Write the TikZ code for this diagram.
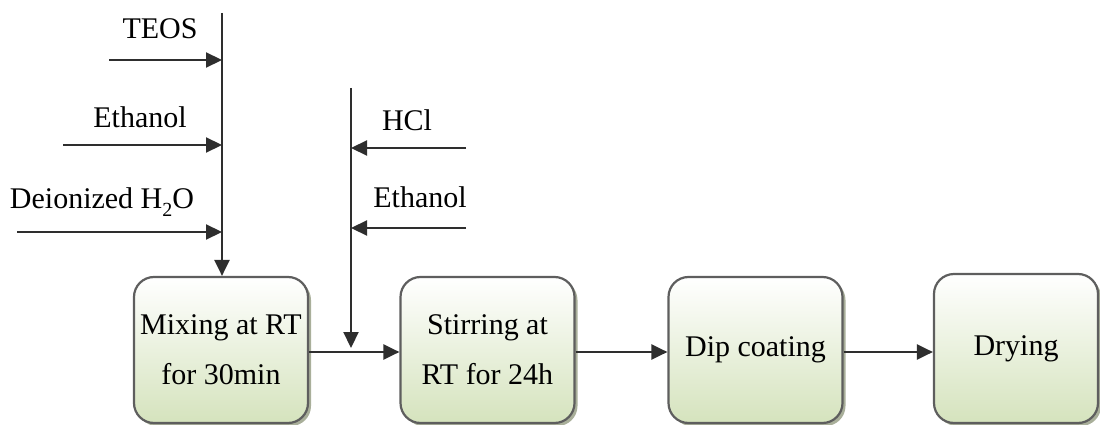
\documentclass[tikz,border=0pt]{standalone}
\usepackage{fontspec}
\setmainfont{Liberation Serif}
\newfontfamily\tnr{Liberation Serif}
\usetikzlibrary{arrows.meta,shadows}
\definecolor{boxgreen}{HTML}{D5E3BD}
\definecolor{boxshadow}{HTML}{A9AF9A}
\definecolor{linec}{HTML}{2E2E2E}
\definecolor{borderc}{HTML}{5E5E5E}
\begin{document}
\begin{tikzpicture}[x=1pt,y=-1pt,
  conn/.style={draw=linec, line width=2.2pt, -{Triangle[length=16pt,width=15pt]}},
  procbox/.style={draw=borderc, line width=2.2pt, rounded corners=20pt,
    shading=axis, top color=white, middle color=boxgreen!45, bottom color=boxgreen,
    minimum width=174pt, minimum height=146pt, align=center,
    font=\tnr\fontsize{30}{50}\selectfont, inner sep=0pt,
    drop shadow={shadow xshift=3pt, shadow yshift=-3pt, fill=boxshadow, opacity=1}},
  lbl/.style={font=\tnr\fontsize{30}{34}\selectfont, inner sep=0pt}]
\useasboundingbox (0,0) rectangle (1100,425);
\begin{scope}
\clip (0,0) rectangle (1100,425);
\node[procbox] (b1) at (221,350) {Mixing at RT\\for 30min};
\node[procbox] (b2) at (487.5,350) {Stirring at\\RT for 24h};
\node[procbox] (b3) at (755.5,350) {Dip coating};
\node[procbox, minimum width=164pt, minimum height=149pt] (b4) at (1016,348.5) {Drying};
\end{scope}

% left feed line
\coordinate (t1) at (222,13);
\draw[conn] (t1) -- (b1.north -| t1);
\coordinate (a1) at (109,60);
\coordinate (a2) at (63,145);
\coordinate (a3) at (17,232);
\draw[conn] (a1) -- (a1 -| t1);
\draw[conn] (a2) -- (a2 -| t1);
\draw[conn] (a3) -- (a3 -| t1);
\node[lbl] (lteos) at (160,29) {TEOS};
\node[lbl] (leth1) at (140,117) {Ethanol};
\node[lbl] (lh2o) at (102,202) {Deionized H\raisebox{-0.25em}{\fontsize{20}{20}\selectfont 2}O};

% right feed line
\coordinate (t2) at (351,88);
\coordinate (j2) at (351,348);
\draw[conn] (t2) -- (j2);
\coordinate (c1) at (466,148);
\coordinate (c2) at (466,228);
\draw[conn] (c1) -- (c1 -| t2);
\draw[conn] (c2) -- (c2 -| t2);
\node[lbl] (lhcl) at (407,120) {HCl};
\node[lbl] (leth2) at (420,197) {Ethanol};

% main flow
\draw[conn] (b1.east |- 0,352) -- (b2.west |- 0,352);
\draw[conn] (b2.east |- 0,352) -- (b3.west |- 0,352);
\draw[conn] (b3.east |- 0,352) -- (b4.west |- 0,352);
\end{tikzpicture}
\end{document}
